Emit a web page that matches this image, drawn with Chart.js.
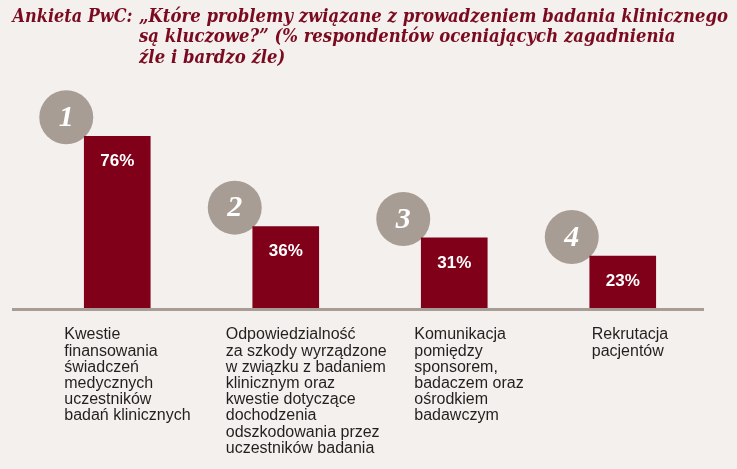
<!DOCTYPE html>
<html><head><meta charset="utf-8">
<script src="https://cdn.jsdelivr.net/npm/chart.js"></script>
<style>
html,body{margin:0;padding:0;background:#f4f0ed;}
#wrap{width:737px;height:469px;position:relative;}
</style></head>
<body><div id="wrap"><canvas id="c" width="737" height="469"></canvas></div>
<script>
const ranks = ['1','2','3','4'];
const values = [76, 36, 31, 23];
const valueLabels = ['76%','36%','31%','23%'];
const categories = [
  ['Kwestie','finansowania','świadczeń','medycznych','uczestników','badań klinicznych'],
  ['Odpowiedzialność','za szkody wyrządzone','w związku z badaniem','klinicznym oraz','kwestie dotyczące','dochodzenia','odszkodowania przez','uczestników badania'],
  ['Komunikacja','pomiędzy','sponsorem,','badaczem oraz','ośrodkiem','badawczym'],
  ['Rekrutacja','pacjentów']
];
const titleLead = 'Ankieta PwC:';
const titleLines = ['„Które problemy związane z prowadzeniem badania klinicznego','są kluczowe?” (% respondentów oceniających zagadnienia','źle i bardzo źle)'];

const BAR = '#80001a', CIRCLE = '#a89d95', BG = '#f4f0ed', TITLE = '#7a0a20', TEXT = '#231f20';
const LABEL_DX = [-53, -60, -40, -31];

const decor = {
  id: 'decor',
  beforeDraw(chart) {
    const ctx = chart.ctx;
    ctx.save();
    ctx.fillStyle = BG;
    ctx.fillRect(0, 0, chart.width, chart.height);
    // title
    ctx.fillStyle = TITLE;
    ctx.font = 'italic bold 19px "DejaVu Serif"';
    ctx.textBaseline = 'alphabetic';
    ctx.textAlign = 'left';
    const sLead = 120 / ctx.measureText(titleLead).width;
    const s = 589 / ctx.measureText(titleLines[0]).width;
    ctx.save();
    ctx.translate(12.5, 21.5);
    ctx.scale(sLead, 1);
    ctx.fillText(titleLead, 0, 0);
    ctx.restore();
    titleLines.forEach((t, i) => {
      ctx.save();
      ctx.translate(139, 21.5 + i * 20.5);
      ctx.scale(s, 1);
      ctx.fillText(t, 0, 0);
      ctx.restore();
    });
    ctx.restore();
  },
  beforeDatasetsDraw(chart) {
    const ctx = chart.ctx;
    const meta = chart.getDatasetMeta(0);
    ctx.save();
    meta.data.forEach((bar, i) => {
      const cx = bar.x - 51, cy = bar.y - 19;
      ctx.fillStyle = CIRCLE;
      ctx.beginPath();
      ctx.arc(cx, cy, 27, 0, Math.PI * 2);
      ctx.fill();
      ctx.fillStyle = '#ffffff';
      ctx.font = 'italic bold 30px "Liberation Serif"';
      ctx.textAlign = 'center';
      ctx.textBaseline = 'middle';
      ctx.fillText(ranks[i], cx, cy + 1);
    });
    // baseline
    const y0 = chart.scales.y.getPixelForValue(0);
    ctx.fillStyle = CIRCLE;
    ctx.fillRect(12, y0, 692, 3);
    ctx.restore();
  },
  afterDatasetsDraw(chart) {
    const ctx = chart.ctx;
    const meta = chart.getDatasetMeta(0);
    const y0 = chart.scales.y.getPixelForValue(0);
    ctx.save();
    meta.data.forEach((bar, i) => {
      ctx.fillStyle = '#ffffff';
      ctx.font = 'bold 17px "Liberation Sans"';
      ctx.textAlign = 'center';
      ctx.textBaseline = 'middle';
      ctx.fillText(valueLabels[i], bar.x, bar.y + 25);
      ctx.fillStyle = TEXT;
      ctx.font = '16px "Liberation Sans"';
      ctx.textAlign = 'left';
      categories[i].forEach((line, j) => ctx.fillText(line, bar.x + LABEL_DX[i], y0 + 27 + j * 16.2));
    });
    ctx.restore();
  }
};

new Chart(document.getElementById('c'), {
  type: 'bar',
  data: {
    labels: ranks,
    datasets: [{ data: values, backgroundColor: BAR, barThickness: 66, borderWidth: 0 }]
  },
  options: {
    responsive: false,
    animation: false,
    layout: { padding: { left: 33, right: 30, top: 82, bottom: 161 } },
    plugins: { legend: { display: false }, title: { display: false }, tooltip: { enabled: false } },
    scales: {
      x: { display: false },
      y: { display: false, min: 0, max: 100 }
    }
  },
  plugins: [decor]
});
</script>
</body></html>
